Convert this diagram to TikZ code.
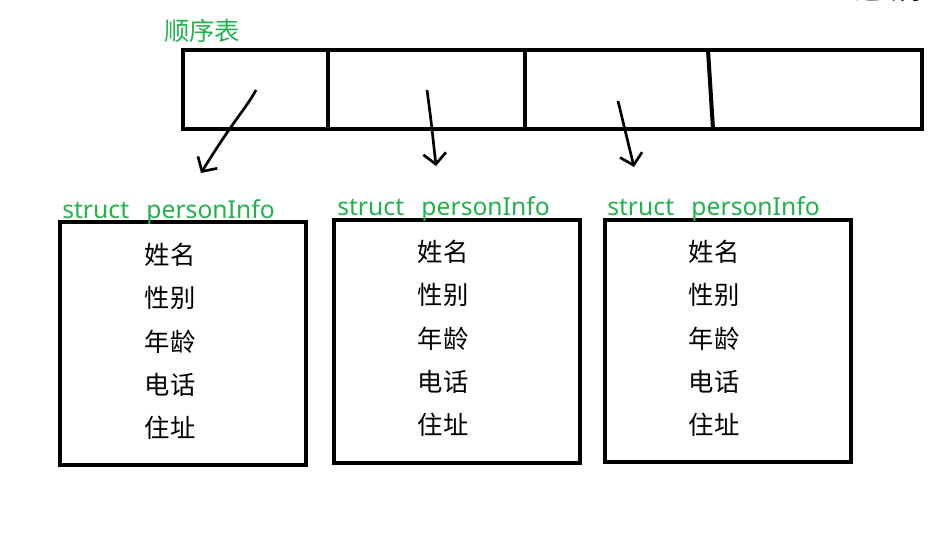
\documentclass[tikz,border=0pt]{standalone}
\usepackage{fontspec}
\usepackage{tikz}
\usetikzlibrary{arrows.meta}
\newfontfamily\cjk{Noto Sans CJK SC}
\newfontfamily\latin{Noto Sans}
\definecolor{etiketYesil}{HTML}{22B14C}
\tikzset{
  kalin/.style={line width=3pt},
  kutu/.style={draw,line width=3pt,minimum width=184.5pt,minimum height=182pt,inner sep=0pt},
  elciz/.style={line width=2pt,-{Straight Barb[length=8pt,width=17pt,line width=2pt]}},
  yazi/.style={font=\cjk\fontsize{19}{19}\selectfont,inner sep=0pt},
  etiket/.style={etiketYesil,anchor=base west,inner sep=0pt,font=\latin\fontsize{18.5}{18.5}\selectfont}
}

\begin{document}
\begin{tikzpicture}[x=0.75pt,y=-0.75pt]
\useasboundingbox (0,0) rectangle (948,550);
% sirali tablo
\node[yazi,etiketYesil,anchor=west] (baslik) at (164,31) {顺序表};
\node[yazi,anchor=center] (kesik) at (893,-10) {通讯录};
\draw[kalin] (183,50) rectangle (922,129);
\draw[kalin] (328,50) -- (328,131);
\draw[kalin] (525,50) -- (525,131);
\draw[kalin] (708,50) -- (713,129);
\coordinate (h1) at (256,90);
\coordinate (h2) at (427,90);
\coordinate (h3) at (618,101);
% struct kutulari
\node[kutu] (kisi1) at (183,343.5) {};
\node[kutu] (kisi2) at (457,341.5) {};
\node[kutu] (kisi3) at (728,341) {};
\node[etiket] (ad1) at (62,218) {struct\hspace{13pt}personInfo};
\node[etiket] (ad2) at (337,215) {struct\hspace{13pt}personInfo};
\node[etiket] (ad3) at (607,215) {struct\hspace{13pt}personInfo};
\coordinate (u1) at (201,173);
\coordinate (u2) at (436,166);
\coordinate (u3) at (634,167);
\draw[elciz] (h1) .. controls (245,110) and (235,118) .. (u1);
\draw[elciz] (h2) .. controls (431,120) .. (u2);
\draw[elciz] (h3) .. controls (625,130) .. (u3);
% alanlar
\foreach \k/\cx/\cy in {1/170/255,2/443/252,3/714/252}{
  \foreach \ad [count=\i from 0] in {姓名,性别,年龄,电话,住址}
    \node[yazi] (alan\k-\i) at (\cx,\cy+\i*43.3) {\ad};
}
\end{tikzpicture}
\end{document}
